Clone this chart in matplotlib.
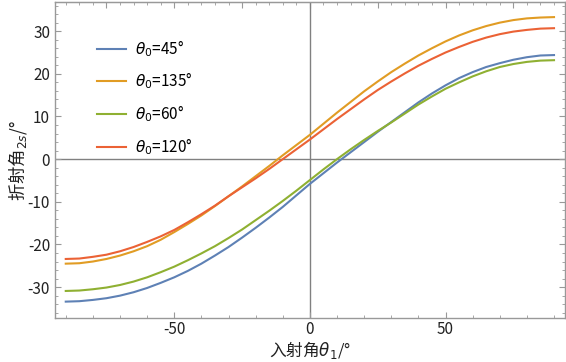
import matplotlib
matplotlib.use("Agg")
import matplotlib.pyplot as plt
from matplotlib.ticker import MultipleLocator

plt.rcParams["font.family"] = ["Noto Sans CJK SC", "DejaVu Sans"]
plt.rcParams["axes.unicode_minus"] = False
plt.rcParams["mathtext.fontset"] = "dejavusans"

# incident angle theta_1 (deg), step 5
theta1 = list(range(-90, 91, 5))

# refraction angle for each theta_0
ref_45 = [-33.4, -33.3, -33.0, -32.6, -32.0, -31.2, -30.2, -29.0, -27.7, -26.2,
          -24.5, -22.6, -20.6, -18.4, -16.1, -13.7, -11.2, -8.5, -5.8, -3.3,
          -0.8, 1.6, 4.0, 6.4, 8.7, 11.0, 13.3, 15.4, 17.3, 19.0,
          20.4, 21.6, 22.5, 23.3, 23.9, 24.3, 24.4]
ref_135 = [-24.5, -24.4, -24.0, -23.4, -22.6, -21.6, -20.4, -18.9, -17.1, -15.2,
           -13.2, -11.0, -8.7, -6.4, -4.0, -1.6, 0.9, 3.3, 5.7, 8.3,
           10.9, 13.4, 15.9, 18.2, 20.4, 22.4, 24.3, 26.0, 27.6, 29.0,
           30.2, 31.2, 32.0, 32.6, 33.0, 33.2, 33.3]
ref_60 = [-30.9, -30.8, -30.5, -30.1, -29.5, -28.7, -27.7, -26.5, -25.2, -23.7,
          -22.1, -20.4, -18.5, -16.5, -14.3, -12.1, -9.8, -7.4, -4.9, -2.4,
          0.0, 2.3, 4.5, 6.6, 8.6, 10.7, 12.8, 14.7, 16.5, 18.0,
          19.4, 20.6, 21.6, 22.3, 22.8, 23.1, 23.2]
ref_120 = [-23.4, -23.3, -22.9, -22.4, -21.6, -20.6, -19.4, -18.1, -16.6, -14.8,
           -12.9, -10.9, -8.7, -6.6, -4.5, -2.3, 0.0, 2.3, 4.6, 7.0,
           9.4, 11.7, 14.0, 16.2, 18.2, 20.1, 21.9, 23.5, 25.0, 26.3,
           27.5, 28.5, 29.3, 29.9, 30.3, 30.6, 30.7]

series = [
    (r"$\theta_0$=45°", ref_45, "#5E81B5"),
    (r"$\theta_0$=135°", ref_135, "#E19C24"),
    (r"$\theta_0$=60°", ref_60, "#8FB032"),
    (r"$\theta_0$=120°", ref_120, "#EB6235"),
]

fig = plt.figure(figsize=(5.66, 3.62), dpi=100)
ax = fig.add_axes([0.097, 0.122, 0.901, 0.872])

ax.axhline(0, color="#808080", lw=1.0, zorder=1)
ax.axvline(0, color="#808080", lw=1.0, zorder=1)

for label, ys, col in series:
    ax.plot(theta1, ys, color=col, lw=1.5, label=label, zorder=3,
            solid_joinstyle="round")

ax.set_xlim(-94, 94)
ax.set_ylim(-37.2, 36.8)

ax.xaxis.set_major_locator(MultipleLocator(50))
ax.xaxis.set_minor_locator(MultipleLocator(10))
ax.yaxis.set_major_locator(MultipleLocator(10))
ax.yaxis.set_minor_locator(MultipleLocator(2))

for s in ax.spines.values():
    s.set_color("#999999")
    s.set_linewidth(1.0)

ax.tick_params(which="both", direction="in", colors="#999999",
               labelcolor="#222222", labelsize=11, right=True)
ax.tick_params(axis="x", pad=2)
ax.tick_params(which="major", length=4)
ax.tick_params(which="minor", length=2)

top = ax.secondary_xaxis("top")
top.xaxis.set_major_locator(MultipleLocator(25))
top.xaxis.set_minor_locator(MultipleLocator(5))
top.tick_params(which="both", direction="in", colors="#999999", labeltop=False)
top.tick_params(which="major", length=4)
top.tick_params(which="minor", length=2)
top.spines["top"].set_color("#999999")

ax.set_xlabel(r"入射角$\theta_1$/°", fontsize=12, color="#222222")
ax.xaxis.set_label_coords(0.5, -0.068)
ax.set_ylabel(r"折射角$_{2s}$/°", fontsize=12.5, color="#222222", labelpad=-1)

leg = ax.legend(loc="upper left", bbox_to_anchor=(0.055, 0.93), frameon=False,
                fontsize=11, handlelength=1.9, labelspacing=0.78,
                handletextpad=0.6)

fig.savefig("out.png", dpi=100)
